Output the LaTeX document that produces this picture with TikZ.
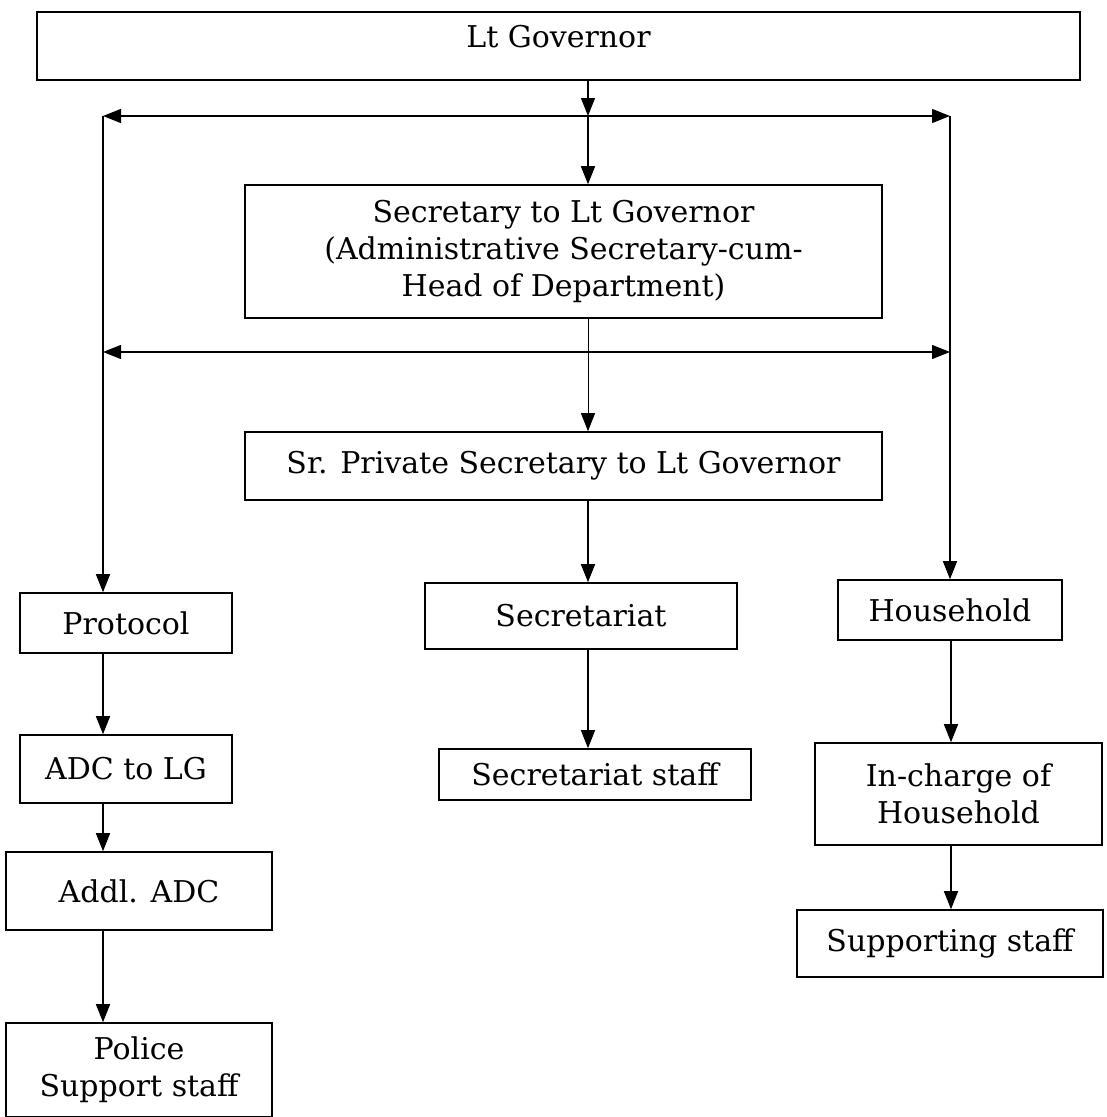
\documentclass[tikz,border=0pt]{standalone}
\usepackage{fontspec}
\setmainfont{DejaVu Serif}
\usetikzlibrary{arrows.meta}
\begin{document}
\begin{tikzpicture}[x=1pt,y=-1pt,
  box/.style={draw, line width=1.6pt, inner sep=0pt, align=center,
    font=\fontsize{30}{37}\selectfont},
  conn/.style={line width=1.4pt},
  arr/.style={line width=1.4pt, -{Triangle[length=18pt,width=14pt]}}]
\useasboundingbox (0,0) rectangle (1107,1117);
% boxes
\node[box, minimum width=1043pt, minimum height=68pt, text height=35pt, text depth=33pt] (lg) at (558.5,46) {Lt Governor};
\node[box, minimum width=637pt, minimum height=133pt] (sec) at (563.5,251.5) {Secretary to Lt Governor\\(Administrative Secretary-cum-\\Head of Department)};
\node[box, minimum width=637pt, minimum height=68pt] (sps) at (563.5,466) {Sr. Private Secretary to Lt Governor};
\node[box, minimum width=212pt, minimum height=60pt] (prot) at (126,623) {Protocol};
\node[box, minimum width=212pt, minimum height=68pt] (adc) at (126,769) {ADC to LG};
\node[box, minimum width=266pt, minimum height=78pt] (addl) at (139,891) {Addl. ADC};
\node[box, minimum width=266pt, minimum height=94pt] (pol) at (139,1070) {Police\\Support staff};
\node[box, minimum width=312pt, minimum height=66pt] (secr) at (581,616) {Secretariat};
\node[box, minimum width=312pt, minimum height=51pt] (secs) at (595,774.5) {Secretariat staff};
\node[box, minimum width=224pt, minimum height=60pt] (hh) at (950,610) {Household};
\node[box, minimum width=287pt, minimum height=102pt] (inc) at (958.5,794) {In-charge of\\Household};
\node[box, minimum width=306pt, minimum height=67pt] (sup) at (950,943.5) {Supporting staff};
% junction coordinates
\coordinate (h1L) at (103,116);
\coordinate (h1M) at (588,116);
\coordinate (h1R) at (950,116);
\coordinate (h2L) at (103,352);
\coordinate (h2M) at (588,352);
\coordinate (h2R) at (950,352);
\coordinate (lx) at (103,0);
\coordinate (rx) at (951,0);
% top distribution
\draw[arr] (lg.south -| h1M) -- (h1M);
\draw[arr] (h1M) -- (h1L);
\draw[arr] (h1M) -- (h1R);
\draw[arr] (h1M) -- (h1M |- sec.north);
\draw[arr] (h1L) -- (h1L |- prot.north);
\draw[arr] (h1R) -- (h1R |- hh.north);
% second distribution
\draw[conn, line width=0.8pt] (sec.south -| h2M) -- (h2M);
\draw[arr] (h2M) -- (h2L);
\draw[arr] (h2M) -- (h2R);
\draw[arr, line width=0.9pt] (h2M) -- (h2M |- sps.north);
% middle column
\draw[arr] (sps.south -| h2M) -- (h2M |- secr.north);
\draw[arr] (secr.south -| h2M) -- (h2M |- secs.north);
% left column
\draw[arr] (prot.south -| lx) -- (adc.north -| lx);
\draw[arr] (adc.south -| lx) -- (addl.north -| lx);
\draw[arr] (addl.south -| lx) -- (pol.north -| lx);
% right column
\draw[arr] (hh.south -| rx) -- (inc.north -| rx);
\draw[arr] (inc.south -| rx) -- (sup.north -| rx);
\end{tikzpicture}
\end{document}
